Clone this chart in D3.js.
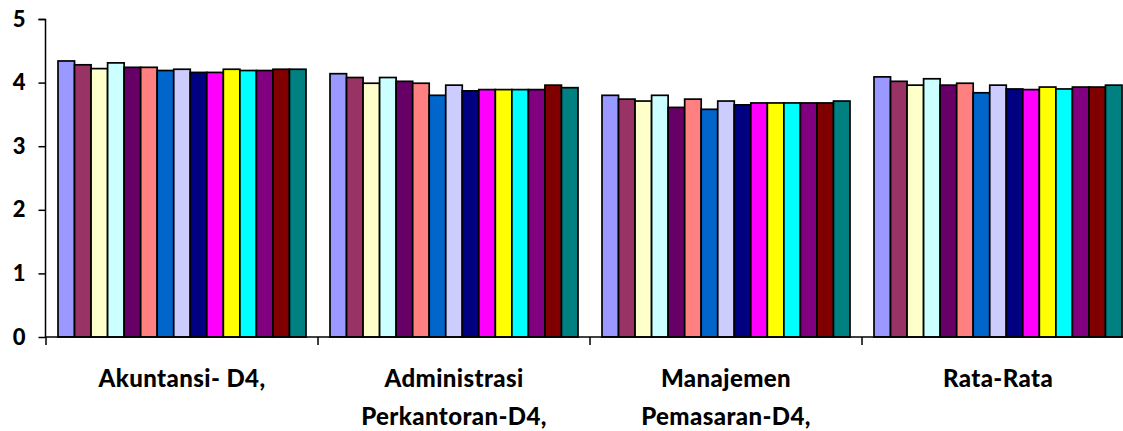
<!DOCTYPE html>
<html><head><meta charset="utf-8">
<script src="https://cdn.jsdelivr.net/npm/d3@7"></script>
<style>body{margin:0;background:#fff}svg{display:block}</style>
</head><body><svg id="c" width="1123" height="431"></svg>
<script>
const categories = [["Akuntansi- D4,"],["Administrasi","Perkantoran-D4,"],["Manajemen","Pemasaran-D4,"],["Rata-Rata"]];
const seriesNames = ["S1","S2","S3","S4","S5","S6","S7","S8","S9","S10","S11","S12","S13","S14","S15"];
const seriesColors = ["#9999FF","#993366","#FFFFCC","#CCFFFF","#660066","#FF8080","#0066CC","#CCCCFF","#000080","#FF00FF","#FFFF00","#00FFFF","#800080","#800000","#008080"];
const valuesAkuntansi = [4.34,4.28,4.22,4.31,4.24,4.24,4.19,4.21,4.16,4.16,4.21,4.19,4.19,4.21,4.21];
const valuesAdministrasi = [4.14,4.08,3.99,4.08,4.02,3.99,3.80,3.96,3.87,3.89,3.89,3.89,3.89,3.96,3.92];
const valuesManajemen = [3.80,3.74,3.71,3.80,3.61,3.74,3.58,3.71,3.65,3.68,3.68,3.68,3.68,3.68,3.71];
const valuesRataRata = [4.09,4.02,3.96,4.06,3.96,3.99,3.84,3.96,3.90,3.89,3.93,3.90,3.93,3.93,3.96];
const yTicks = [0,1,2,3,4,5];

const groups = [valuesAkuntansi, valuesAdministrasi, valuesManajemen, valuesRataRata];
const svg = d3.select("#c");
const catKeys = categories.map((c,i)=>i);
const x0 = d3.scaleBand().domain(catKeys).range([46, 1134]).padding(0);
const x1 = d3.scaleBand().domain(seriesNames).range([12, x0.bandwidth()-12]).padding(0);
const y = d3.scaleLinear().domain([0,5]).range([337,19]);
const font = "Lato, 'Open Sans', sans-serif";

const g = svg.append("g");
groups.forEach((vals, ci) => {
  g.append("g").attr("transform", `translate(${x0(ci)},0)`)
   .selectAll("rect").data(vals).join("rect")
   .attr("x", (d,i)=>x1(seriesNames[i]))
   .attr("y", d=>y(d))
   .attr("width", x1.bandwidth())
   .attr("height", d=>y(0)-y(d))
   .attr("fill", (d,i)=>seriesColors[i])
   .attr("stroke", "#000").attr("stroke-width", 1.7);
});

// Y axis
const yAxis = svg.append("g").attr("transform","translate(45.5,0)")
  .call(d3.axisLeft(y).tickValues(yTicks).tickSize(7).tickPadding(13).tickFormat(d3.format("d")));
yAxis.select(".domain").attr("stroke","#000").attr("stroke-width",1.5).attr("d","M-7,19.5H0V337");
yAxis.selectAll(".tick line").attr("stroke","#000").attr("stroke-width",1.5);
yAxis.selectAll(".tick text").attr("font-family",font).attr("font-weight",900).attr("font-size",22).attr("fill","#000");

// X axis
const xa = svg.append("g").attr("transform","translate(0,337)");
xa.append("line").attr("x1",45).attr("x2",1123).attr("y1",0).attr("y2",0).attr("stroke","#000").attr("stroke-width",1.5);
const bounds = catKeys.map(k=>x0(k));
xa.selectAll("line.t").data(bounds).join("line").attr("class","t")
  .attr("x1",d=>d).attr("x2",d=>d).attr("y1",0).attr("y2",8).attr("stroke","#000").attr("stroke-width",1.5);
catKeys.forEach(k=>{
  const t = xa.append("text").attr("x", x0(k)+x0.bandwidth()/2).attr("y", 50)
    .attr("text-anchor","middle").attr("font-family",font).attr("font-weight",900).attr("font-size",24)
    .attr("letter-spacing",0.4).attr("fill","#000");
  categories[k].forEach((line,li)=>{
    t.append("tspan").attr("x", x0(k)+x0.bandwidth()/2).attr("dy", li===0?0:38).text(line);
  });
});
</script></body></html>
